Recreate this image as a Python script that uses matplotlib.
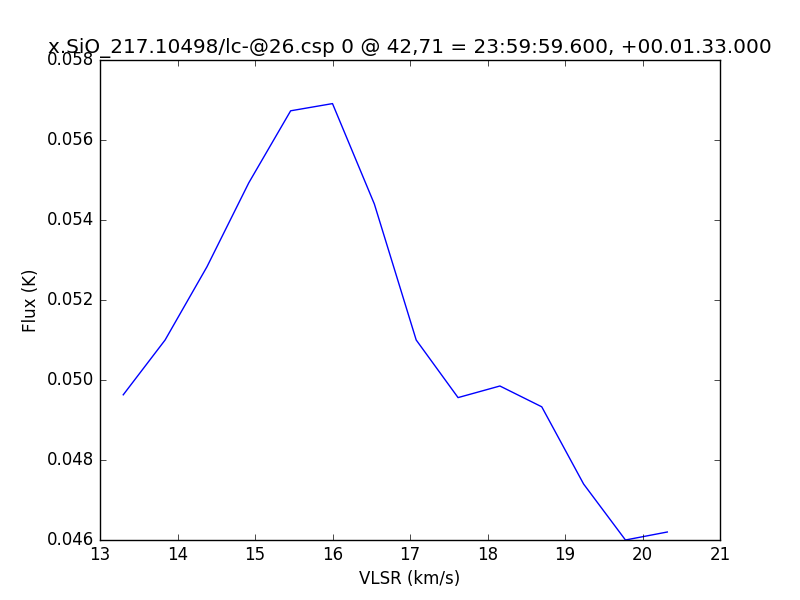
import matplotlib
matplotlib.use("Agg")
import matplotlib.pyplot as plt

plt.style.use("classic")

vlsr = [13.30, 13.84, 14.38, 14.92, 15.46, 16.00, 16.54, 17.08,
        17.62, 18.16, 18.70, 19.24, 19.78, 20.32]
flux = [0.04963, 0.0510, 0.05283, 0.05493, 0.05673, 0.05691, 0.0544, 0.0510,
        0.04956, 0.04985, 0.04933, 0.0474, 0.0460, 0.0462]

title = "x.SiO_217.10498/lc-@26.csp 0 @ 42,71 = 23:59:59.600, +00.01.33.000"

fig = plt.figure(figsize=(8, 6), dpi=100)
ax = fig.add_subplot(111)
ax.plot(vlsr, flux, color="b")
ax.set_xlim(13, 21)
ax.set_ylim(0.046, 0.058)
ax.set_xlabel("VLSR (km/s)")
ax.set_ylabel("Flux (K)")
ax.set_title(title)

fig.savefig("out.png", dpi=100, facecolor="white")
